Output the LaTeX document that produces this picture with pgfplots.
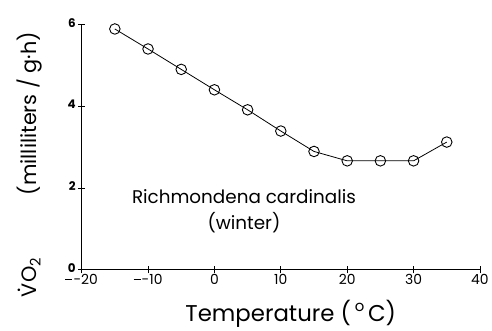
\documentclass[border=0pt]{standalone}
\usepackage{fontspec}
\setmainfont{Poppins}
\usepackage{pgfplots}
\pgfplotsset{compat=1.18}
\newcommand{\dotV}{{\setbox0\hbox{V}\rlap{\hbox to\wd0{\hss\raisebox{0.8em}{.}\hss}}V}}
\newcommand{\mminus}{\rule[0.3em]{0.5em}{0.07em}\kern0.08em}
\begin{document}
\begin{tikzpicture}
\begin{axis}[
  scale only axis, width=400bp, height=246bp,
  xmin=-20, xmax=40, ymin=0, ymax=6,
  axis x line=bottom, axis y line=left,
  axis line style={-, line width=0.9pt},
  xtick={-20,-10,0,10,20,30,40}, ytick={0,2,4,6},
  tick align=center, major tick length=7bp,
  tick style={line width=0.9pt, black},
  /pgf/number format/assume math mode=true,
  xticklabel style={font=\fontsize{14}{16}\selectfont, yshift=3bp},
  yticklabel style={font=\fontsize{12}{14}\selectfont\bfseries, xshift=1bp, yshift=2bp},
  xticklabel={\ifdim\tick pt<0pt \mminus\pgfmathprintnumber[print sign=false]{\tick}\else\pgfmathprintnumber{\tick}\fi},
  clip=false,
]
\addplot[black, line width=0.8pt, mark=o, mark size=5.3bp, mark options={fill=white, line width=0.9pt}]
coordinates {(-15,5.9) (-10,5.41) (-5,4.91) (0,4.41) (5,3.92) (10,3.40) (15,2.90) (20,2.67) (25,2.67) (30,2.67) (35,3.13)};
\node[font=\fontsize{18.5}{20}\selectfont] at (axis cs:4.45,1.80) {Richmondena cardinalis};
\node[font=\fontsize{18.5}{20}\selectfont] at (axis cs:4.45,1.15) {(winter)};
\node[font=\fontsize{23}{25}\selectfont] at (axis cs:11.5,-1.07) {Temperature (\,\raisebox{0.42em}{\fontsize{15}{15}\selectfont o}\,C)};
\node[font=\fontsize{21}{24}\selectfont, rotate=90, anchor=center] at (rel axis cs:-0.13,0.43) {\dotV O\textsubscript{2}\hspace{3em}(milliliters / g\textperiodcentered h)};
\path (rel axis cs:-0.205,-0.244) rectangle (rel axis cs:1.025,1.1016);
\end{axis}
\end{tikzpicture}
\end{document}
